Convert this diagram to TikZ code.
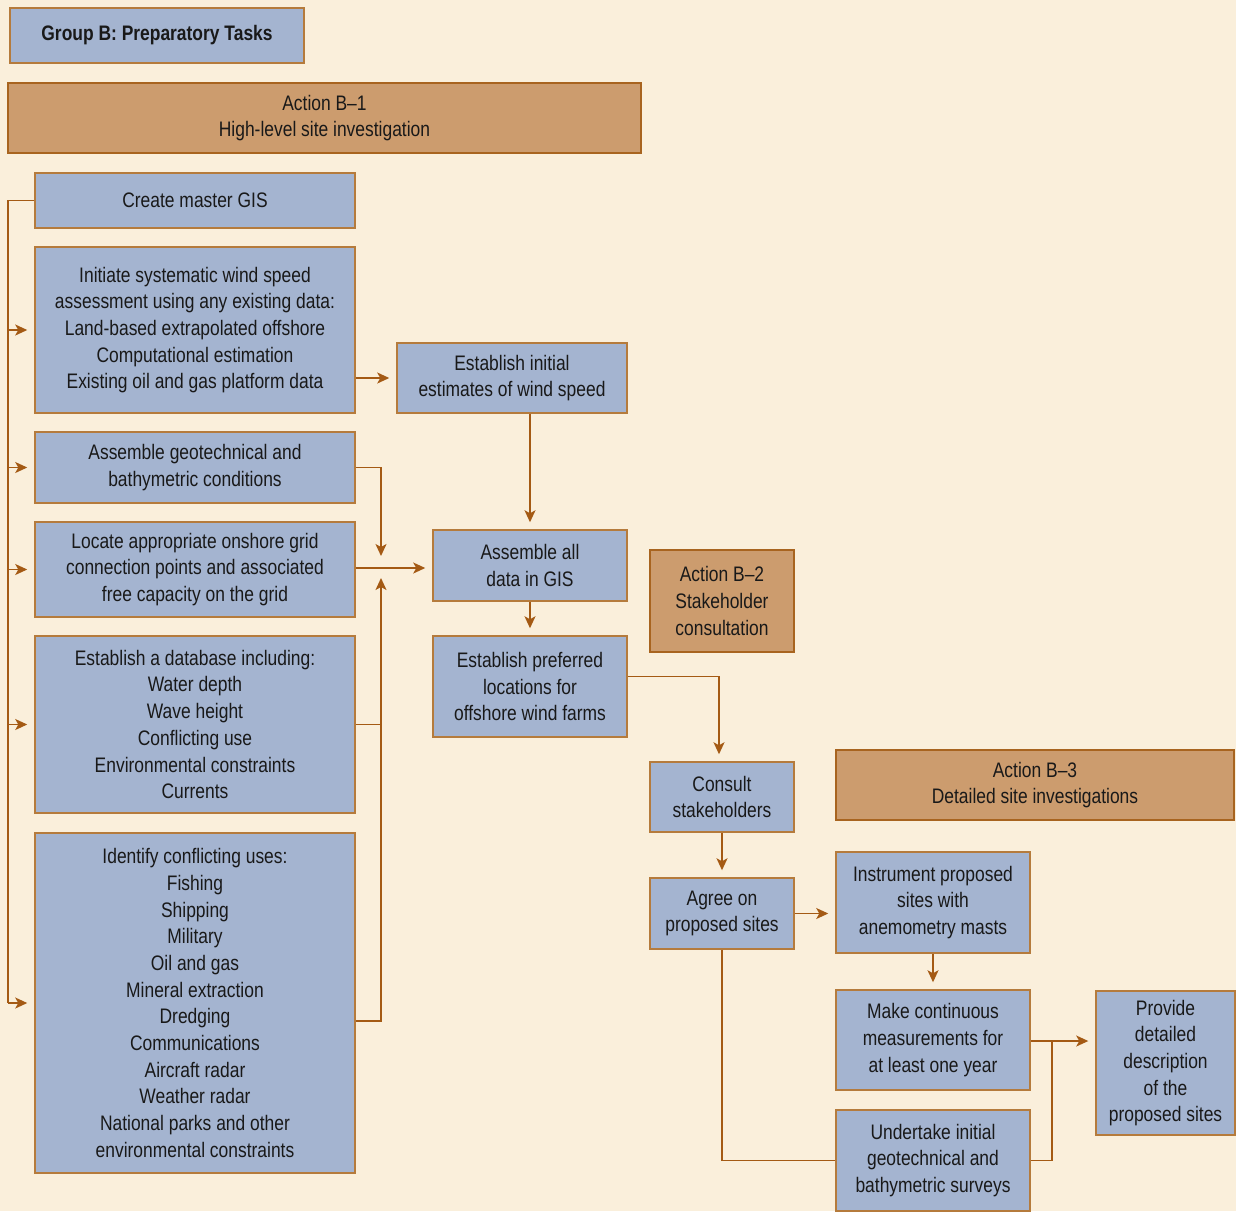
\documentclass[tikz,border=0pt]{standalone}
\usepackage{fontspec}
\setmainfont[FakeStretch=0.83]{Liberation Sans}
\usetikzlibrary{arrows.meta}
\definecolor{paper}{HTML}{FAEFDB}
\definecolor{taskblue}{HTML}{A4B4D0}
\definecolor{taskedge}{HTML}{B57B3C}
\definecolor{actionfill}{HTML}{CC9C6E}
\definecolor{actionedge}{HTML}{A8641F}
\definecolor{flow}{HTML}{A45A14}
\begin{document}
\begin{tikzpicture}[x=0.5pt,y=-0.5pt]
    \tikzstyle{task} = [rectangle,draw=taskedge,fill=taskblue,line width=0.75pt,text=black!90,align=center,inner sep=0pt,font=\fontsize{10.5}{13.35}\selectfont]
    \tikzstyle{action} = [task,draw=actionedge,fill=actionfill]
    \tikzstyle{line} = [draw=flow,line width=0.75pt]
    \tikzstyle{arrow} = [line,-{Stealth[length=6pt,width=5.5pt,inset=1.5pt]},shorten >=3.5pt]
    \fill[paper] (0,0) rectangle (1236,1211);
    \useasboundingbox (0,0) rectangle (1236,1211);
    % headings
    \node (group)[task,minimum width=147pt,minimum height=27.5pt,font=\fontsize{10.5}{13.35}\selectfont\bfseries] at (157,35.5) {Group B: Preparatory Tasks};
    \node (actionB1)[action,minimum width=316.5pt,minimum height=35pt] at (324.5,118) {Action B--1\\High-level site investigation};
    % left column
    \node (gis)[task,minimum width=160pt,minimum height=27.5pt] at (195,200.5) {Create master GIS};
    \node (wind)[task,minimum width=160pt,minimum height=83pt] at (195,330) {Initiate systematic wind speed\\assessment using any existing data:\\Land-based extrapolated offshore\\Computational estimation\\Existing oil and gas platform data};
    \node (geotech)[task,minimum width=160pt,minimum height=35.5pt] at (195,467.5) {Assemble geotechnical and\\bathymetric conditions};
    \node (grid)[task,minimum width=160pt,minimum height=47.5pt] at (195,569.5) {Locate appropriate onshore grid\\connection points and associated\\free capacity on the grid};
    \node (database)[task,minimum width=160pt,minimum height=88.5pt] at (195,724.5) {Establish a database including:\\Water depth\\Wave height\\Conflicting use\\Environmental constraints\\Currents};
    \node (conflicts)[task,minimum width=160pt,minimum height=170pt] at (195,1003) {Identify conflicting uses:\\Fishing\\Shipping\\Military\\Oil and gas\\Mineral extraction\\Dredging\\Communications\\Aircraft radar\\Weather radar\\National parks and other\\environmental constraints};
    % middle column
    \node (estwind)[task,minimum width=115pt,minimum height=35pt] at (512,378) {Establish initial\\estimates of wind speed};
    \node (assemble)[task,minimum width=97pt,minimum height=35.5pt] at (530,565.5) {Assemble all\\data in GIS};
    \node (preferred)[task,minimum width=97pt,minimum height=50.5pt] at (530,686.5) {Establish preferred\\locations for\\offshore wind farms};
    \node (actionB2)[action,minimum width=72pt,minimum height=51pt] at (722,601) {Action B--2\\Stakeholder\\consultation};
    \node (consult)[task,minimum width=72pt,minimum height=35pt] at (722,797) {Consult\\stakeholders};
    \node (agree)[task,minimum width=72pt,minimum height=35.5pt] at (722,913.5) {Agree on\\proposed sites};
    % right column
    \node (actionB3)[action,minimum width=199pt,minimum height=35pt] at (1035,785) {Action B--3\\Detailed site investigations};
    \node (masts)[task,minimum width=97pt,minimum height=50.5pt] at (933,902.5) {Instrument proposed\\sites with\\anemometry masts};
    \node (measure)[task,minimum width=97pt,minimum height=50pt] at (933,1040) {Make continuous\\measurements for\\at least one year};
    \node (surveys)[task,minimum width=97pt,minimum height=50.5pt] at (933,1160.5) {Undertake initial\\geotechnical and\\bathymetric surveys};
    \node (describe)[task,minimum width=69.5pt,minimum height=72pt] at (1165.5,1063) {Provide\\detailed\\description\\of the\\proposed sites};
    % connectors
    \coordinate (bus) at (8,200.5);
    \coordinate (merge) at (381,568);
    \coordinate (tie) at (1052,1041);
    \draw [line] (gis.west) -| (bus |- conflicts.west);
    \foreach \target in {wind,geotech,grid,database,conflicts}
        \draw [arrow] (bus |- \target.west) -- (\target.west);
    \draw [arrow] (wind.east |- estwind.west) -- (estwind.west);
    \draw [arrow] (estwind.south -| assemble.north) -- (assemble.north);
    \draw [arrow,shorten >=6pt] (geotech.east) -| (merge);
    \draw [arrow,shorten >=5pt] ([yshift=-9pt]conflicts.east) -| (merge);
    \draw [line] (database.east) -- (database.east -| merge);
    \draw [arrow] (grid.east |- merge) -- (merge -| assemble.west);
    \draw [arrow] (assemble.south) -- (preferred.north);
    \draw [arrow] ([yshift=5pt]preferred.east) -| ([xshift=-1.5pt]consult.north);
    \draw [arrow] (consult.south) -- (agree.north);
    \draw [arrow] (agree.east) -- (agree.east -| masts.west);
    \draw [arrow] (masts.south) -- (measure.north);
    \draw [line] (agree.south) |- (surveys.west);
    \draw [arrow] (measure.east |- tie) -- (tie -| describe.west);
    \draw [line] (surveys.east) -| (tie);
\end{tikzpicture}
\end{document}
